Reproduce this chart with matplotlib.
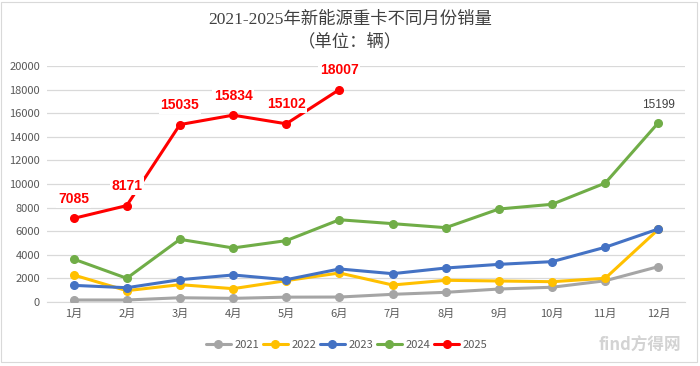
import matplotlib.pyplot as plt
from matplotlib.patches import Rectangle

plt.rcParams['font.family'] = ['Noto Sans CJK SC', 'DejaVu Sans']

months = ['1月', '2月', '3月', '4月', '5月', '6月', '7月', '8月', '9月', '10月', '11月', '12月']
s2021 = [170, 170, 360, 310, 410, 420, 650, 820, 1100, 1250, 1800, 3000]
s2022 = [2290, 960, 1470, 1130, 1810, 2460, 1440, 1840, 1780, 1720, 2010, 6160]
s2023 = [1410, 1210, 1890, 2290, 1890, 2800, 2400, 2880, 3190, 3420, 4640, 6190]
s2024 = [3640, 2010, 5310, 4580, 5200, 6970, 6640, 6300, 7880, 8280, 10080, 15199]
s2025 = [7085, 8171, 15035, 15834, 15102, 18007]

fig = plt.figure(figsize=(7, 3.66), dpi=100)
ax = fig.add_axes([47 / 700, 64 / 366, 638 / 700, 236 / 366])

x = list(range(12))
series = [('2021', s2021, '#a5a5a5'),
          ('2022', s2022, '#ffc000'),
          ('2023', s2023, '#4472c4'),
          ('2024', s2024, '#70ad47'),
          ('2025', s2025, '#ff0000')]
for name, vals, col in series:
    ax.plot(x[:len(vals)], vals, color=col, lw=2.2, marker='o', ms=5.5,
            label=name, solid_capstyle='round', zorder=3)

# data labels for 2025
for i, v in enumerate(s2025):
    ax.annotate(str(v), (i, v), xytext=(0, 14), textcoords='offset points',
                ha='center', va='center', color='#ff0000', fontsize=10,
                fontweight='bold', family='Liberation Sans', zorder=4,
                bbox=dict(boxstyle='square,pad=0.12', fc='white', ec='none'))
ax.annotate(str(s2024[-1]), (11, s2024[-1]), xytext=(0, 13),
            textcoords='offset points', ha='center', va='center',
            color='#404040', fontsize=8.5, family='Liberation Sans', zorder=4)

ax.set_xlim(-0.5, 11.5)
ax.set_ylim(0, 20000)
ax.set_yticks(range(0, 20001, 2000))
ax.set_xticks(x)
ax.set_xticklabels(months)
ax.tick_params(axis='both', length=0, labelsize=8, colors='#595959', pad=5)
ax.grid(axis='y', color='#d9d9d9', lw=0.9)
ax.set_axisbelow(True)
for sp in ['top', 'right', 'left']:
    ax.spines[sp].set_visible(False)
ax.spines['bottom'].set_color('#d9d9d9')

title_font = ['Liberation Serif', 'Noto Sans CJK SC']
fig.text(0.5, 0.945, '2021-2025年新能源重卡不同月份销量', ha='center', va='center',
         fontsize=12.5, color='#404040', family=title_font)
fig.text(0.5, 0.885, '（单位：辆）', ha='center', va='center',
         fontsize=12.5, color='#404040', family=title_font)

leg = fig.legend(loc='center', bbox_to_anchor=(0.495, 0.057), ncol=5, frameon=False,
                 fontsize=8, handlelength=2.3, columnspacing=0.3, handletextpad=0.3)
for t in leg.get_texts():
    t.set_color('#595959')

fig.patches.append(Rectangle((0.002, 0.01), 0.993, 0.985, transform=fig.transFigure,
                             fill=False, ec='#d9d9d9', lw=0.8))
fig.text(0.855, 0.055, 'find方得网', fontsize=12, color='#c8c8c8', alpha=0.8,
         fontweight='bold', ha='left', va='center')

fig.savefig('out.png', dpi=100)
